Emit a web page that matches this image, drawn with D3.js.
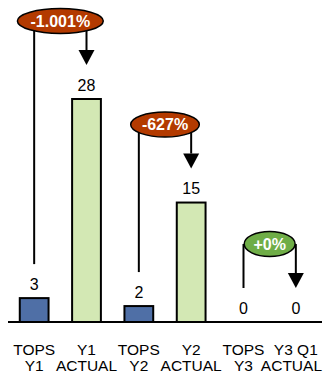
<!DOCTYPE html>
<html>
<head>
<meta charset="utf-8">
<script src="https://cdn.jsdelivr.net/npm/d3@7"></script>
<style>
  html, body { margin: 0; padding: 0; background: #fff; }
  svg { display: block; font-family: "Liberation Sans", Arial, sans-serif; }
</style>
</head>
<body>
<svg id="chart" width="327" height="375"></svg>
<script>
// Category labels (two lines each) and bar values
const categoryLine1 = ["TOPS", "Y1", "TOPS", "Y2", "TOPS", "Y3 Q1"];
const categoryLine2 = ["Y1", "ACTUAL", "Y2", "ACTUAL", "Y3", "ACTUAL"];
const values = [3, 28, 2, 15, 0, 0];
const barKinds = ["plan", "actual", "plan", "actual", "plan", "actual"];

// Variance call-outs: from category index -> to category index
const changeFrom = [0, 2, 4];
const changeTo = [1, 3, 5];
const changeLabels = ["-1.001%", "-627%", "+0%"];
const changeKinds = ["down", "down", "flat"];

const W = 327, H = 375;
const axisY = 322, left = 8, right = 322;
const fontSize = 16;
const catFontSize = 15.5;

const svg = d3.select("#chart");

const x = d3.scaleBand()
  .domain(d3.range(values.length))
  .range([left, right])
  .paddingInner(0.45)
  .paddingOuter(0.225);

const y = d3.scaleLinear().domain([0, 28]).range([axisY, 99]);

const fills = { plan: "#4F6FA6", actual: "#D3E8B4" };
const bubbleFills = { down: "#B33A00", flat: "#6FAD47" };

const cx = i => x(i) + x.bandwidth() / 2;

// Bars
svg.append("g").selectAll("rect")
  .data(values)
  .join("rect")
  .attr("x", (d, i) => x(i))
  .attr("y", d => y(d))
  .attr("width", x.bandwidth())
  .attr("height", d => axisY - y(d))
  .attr("fill", (d, i) => fills[barKinds[i]])
  .attr("stroke", "#000")
  .attr("stroke-width", 2)
  .attr("display", d => d > 0 ? null : "none");

// Baseline
svg.append("line")
  .attr("x1", left).attr("x2", right)
  .attr("y1", axisY).attr("y2", axisY)
  .attr("stroke", "#000").attr("stroke-width", 2);

// Value labels
const labelY = d => y(d) - 14;
svg.append("g").selectAll("text")
  .data(values)
  .join("text")
  .attr("x", (d, i) => cx(i))
  .attr("y", d => labelY(d))
  .attr("dy", "0.35em")
  .attr("text-anchor", "middle")
  .attr("font-size", fontSize)
  .attr("fill", "#000")
  .text(d => d);

// Category labels (two lines, kept inside the right edge)
const cat = svg.append("g");
categoryLine1.forEach((t, i) => {
  [t, categoryLine2[i]].forEach((s, k) => {
    const el = cat.append("text")
      .attr("y", 355 + k * 16)
      .attr("text-anchor", "middle")
      .attr("font-size", catFontSize)
      .attr("fill", "#000")
      .text(s);
    const w = el.node().getComputedTextLength();
    const px = Math.min(cx(i), W - 5 - w / 2);
    el.attr("x", px);
  });
});

// Call-outs
const notes = svg.append("g");
changeLabels.forEach((lab, j) => {
  const a = changeFrom[j], b = changeTo[j];
  const xa = cx(a), xb = cx(b);
  const ya = labelY(values[a]), yb = labelY(values[b]);
  const cy = Math.min(ya, yb) - 64;
  const mx = (xa + xb) / 2;

  notes.append("line")
    .attr("x1", xa).attr("x2", xa)
    .attr("y1", cy).attr("y2", ya - 20)
    .attr("stroke", "#000").attr("stroke-width", 2);

  notes.append("line")
    .attr("x1", xb).attr("x2", xb)
    .attr("y1", cy).attr("y2", yb - 35)
    .attr("stroke", "#000").attr("stroke-width", 2);
  notes.append("path")
    .attr("d", `M${xb - 8},${yb - 35} L${xb + 8},${yb - 35} L${xb},${yb - 20} Z`)
    .attr("fill", "#000");

  const t = notes.append("text")
    .attr("x", mx).attr("y", cy)
    .attr("dy", "0.36em")
    .attr("text-anchor", "middle")
    .attr("font-size", fontSize)
    .attr("font-weight", "bold")
    .attr("fill", "#fff")
    .text(lab);
  const tw = t.node().getComputedTextLength();

  notes.insert("ellipse", () => t.node())
    .attr("cx", mx).attr("cy", cy)
    .attr("rx", 1.29 * tw / 2 + 4.5)
    .attr("ry", 12.5)
    .attr("fill", bubbleFills[changeKinds[j]])
    .attr("stroke", "#000")
    .attr("stroke-width", 1.5);
});
</script>
</body>
</html>
